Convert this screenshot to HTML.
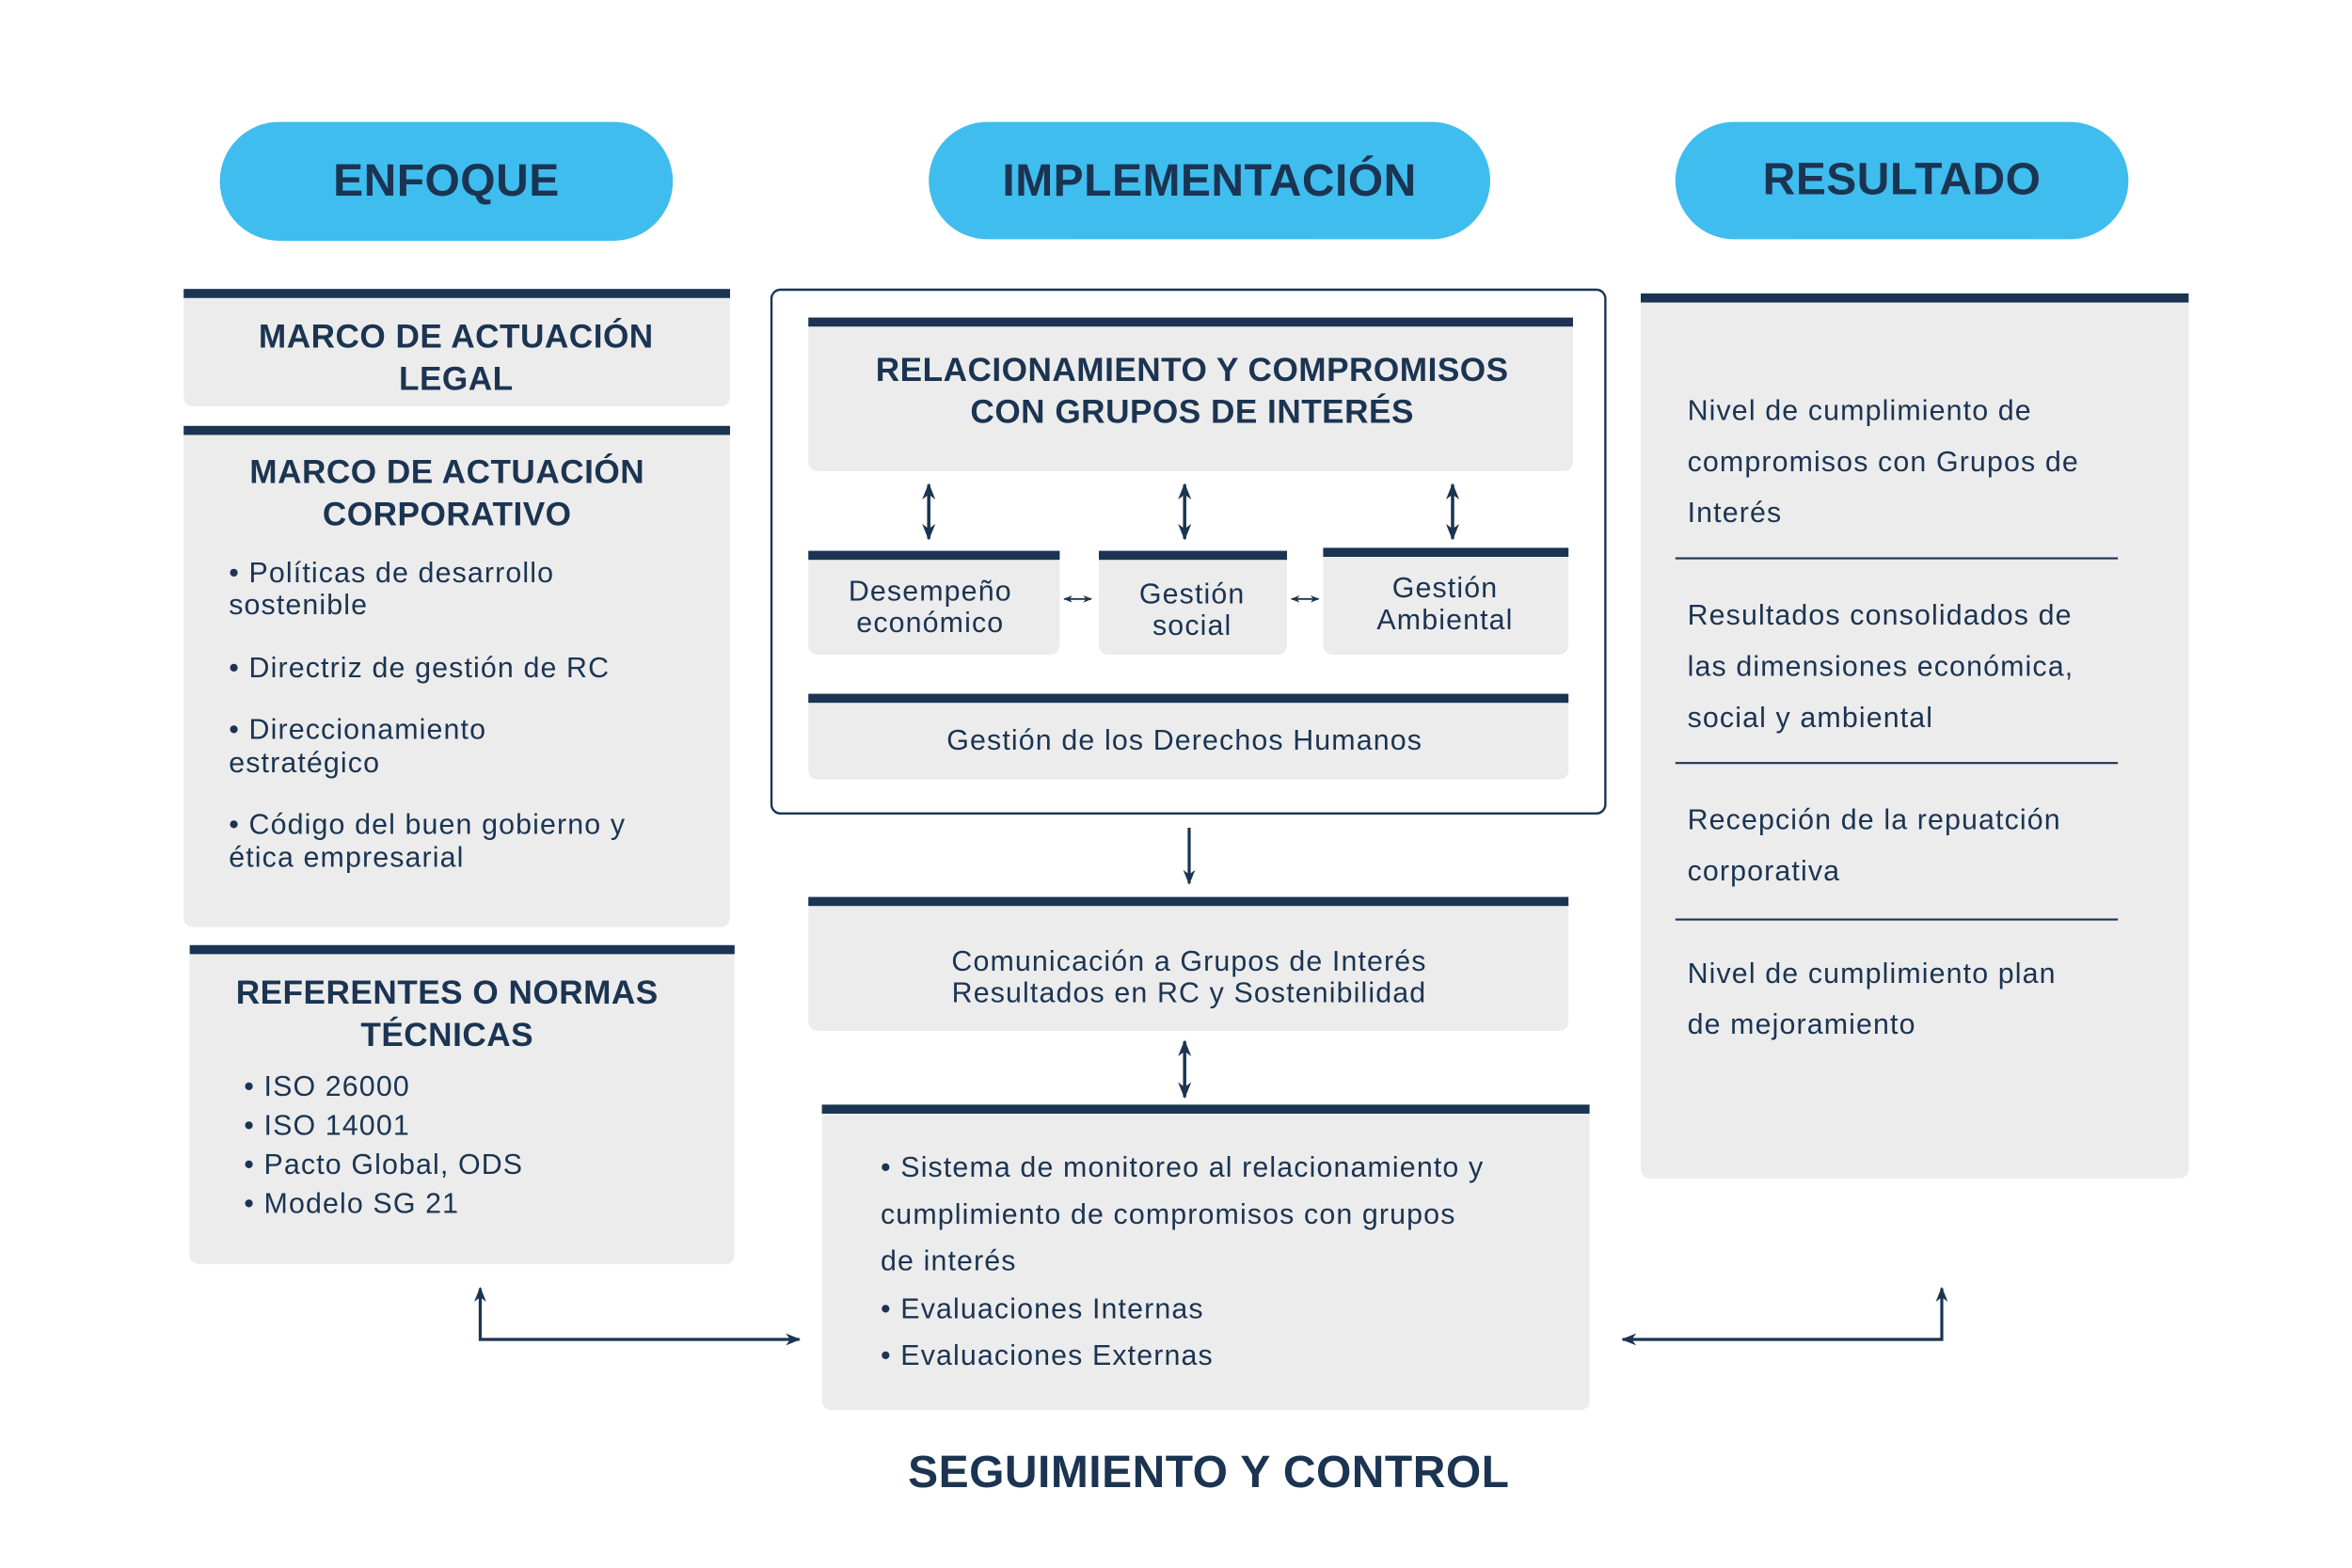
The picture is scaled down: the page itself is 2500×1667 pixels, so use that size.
<!DOCTYPE html>
<html><head><meta charset="utf-8"><style>
html,body{margin:0;padding:0;background:#fff;}
svg{display:block;}
text{font-family:"Liberation Sans","DejaVu Sans",sans-serif;fill:#1b3452;}
.b{font-weight:bold;letter-spacing:0.3px;}
.t{letter-spacing:0.7px;}
</style></head><body>
<svg width="2500" height="1667" viewBox="0 0 1562.5 1041.9" xmlns="http://www.w3.org/2000/svg">
<defs>
<marker id="ah" viewBox="0 0 10 10" refX="9" refY="5" markerWidth="5" markerHeight="5" orient="auto-start-reverse"><path d="M0,1 L10,5 L0,9 L3,5 Z" fill="#1b3452"/></marker>
</defs>
<rect width="1563" height="1042" fill="#fff"/>
<rect x="146" y="81" width="301" height="79" rx="39.5" fill="#3fbdee"/>
<text x="296.5" y="130" font-size="30" class="b" text-anchor="middle">ENFOQUE</text>
<rect x="617" y="81" width="373" height="78" rx="39" fill="#3fbdee"/>
<text x="803.5" y="130" font-size="30" class="b" text-anchor="middle">IMPLEMENTACIÓN</text>
<rect x="1113" y="81" width="301" height="78" rx="39" fill="#3fbdee"/>
<text x="1263.5" y="129" font-size="30" class="b" text-anchor="middle">RESULTADO</text>

<g fill="#ececec">
<rect x="122" y="192" width="363" height="78" rx="6"/>
<rect x="122" y="283" width="363" height="333" rx="6"/>
<rect x="126" y="628" width="362" height="212" rx="6"/>
<rect x="537" y="211" width="508" height="102" rx="6"/>
<rect x="537" y="366" width="167" height="69" rx="6"/>
<rect x="730" y="366" width="125" height="69" rx="6"/>
<rect x="879" y="364" width="163" height="71" rx="6"/>
<rect x="537" y="461" width="505" height="57" rx="6"/>
<rect x="537" y="596" width="505" height="89" rx="6"/>
<rect x="546" y="734" width="510" height="203" rx="6"/>
<rect x="1090" y="195" width="364" height="588" rx="6"/>
</g>
<g fill="#1b3452">
<rect x="122" y="192" width="363" height="6"/>
<rect x="122" y="283" width="363" height="6"/>
<rect x="126" y="628" width="362" height="6"/>
<rect x="537" y="211" width="508" height="6"/>
<rect x="537" y="366" width="167" height="6"/>
<rect x="730" y="366" width="125" height="6"/>
<rect x="879" y="364" width="163" height="6"/>
<rect x="537" y="461" width="505" height="6"/>
<rect x="537" y="596" width="505" height="6"/>
<rect x="546" y="734" width="510" height="6"/>
<rect x="1090" y="195" width="364" height="6"/>
</g>
<rect x="512.5" y="192.5" width="554" height="348" rx="6" fill="none" stroke="#1b3452" stroke-width="1.5"/>

<text x="303" y="231" font-size="22" class="b" text-anchor="middle">MARCO DE ACTUACIÓN</text>
<text x="303" y="259" font-size="22" class="b" text-anchor="middle">LEGAL</text>
<text x="297" y="321" font-size="22" class="b" text-anchor="middle">MARCO DE ACTUACIÓN</text>
<text x="297" y="349" font-size="22" class="b" text-anchor="middle">CORPORATIVO</text>
<g font-size="19" class="t">
<text x="152" y="387">• Políticas de desarrollo</text>
<text x="152" y="408">sostenible</text>
<text x="152" y="450">• Directriz de gestión de RC</text>
<text x="152" y="491">• Direccionamiento</text>
<text x="152" y="513">estratégico</text>
<text x="152" y="554">• Código del buen gobierno y</text>
<text x="152" y="576">ética empresarial</text>
</g>
<text x="297" y="667" font-size="22" class="b" text-anchor="middle">REFERENTES O NORMAS</text>
<text x="297" y="695" font-size="22" class="b" text-anchor="middle">TÉCNICAS</text>
<g font-size="19" class="t">
<text x="162" y="728">• ISO 26000</text>
<text x="162" y="754">• ISO 14001</text>
<text x="162" y="780">• Pacto Global, ODS</text>
<text x="162" y="806">• Modelo SG 21</text>
</g>

<text x="792" y="253" font-size="22" class="b" text-anchor="middle">RELACIONAMIENTO Y COMPROMISOS</text>
<text x="792" y="281" font-size="22" class="b" text-anchor="middle">CON GRUPOS DE INTERÉS</text>
<g font-size="19" text-anchor="middle" class="t">
<text x="618" y="399">Desempeño</text>
<text x="618" y="420">económico</text>
<text x="792" y="401">Gestión</text>
<text x="792" y="422">social</text>
<text x="960" y="397">Gestión</text>
<text x="960" y="418">Ambiental</text>
<text x="787" y="498">Gestión de los Derechos Humanos</text>
<text x="790" y="645">Comunicación a Grupos de Interés</text>
<text x="790" y="666">Resultados en RC y Sostenibilidad</text>
</g>
<g font-size="19" class="t">
<text x="585" y="782">• Sistema de monitoreo al relacionamiento y</text>
<text x="585" y="813">cumplimiento de compromisos con grupos</text>
<text x="585" y="844">de interés</text>
<text x="585" y="876">• Evaluaciones Internas</text>
<text x="585" y="907">• Evaluaciones Externas</text>
</g>
<text x="803" y="988" font-size="30" class="b" text-anchor="middle">SEGUIMIENTO Y CONTROL</text>

<g font-size="19" class="t">
<text x="1121" y="279">Nivel de cumplimiento de</text>
<text x="1121" y="313">compromisos con Grupos de</text>
<text x="1121" y="347">Interés</text>
<text x="1121" y="415">Resultados consolidados de</text>
<text x="1121" y="449">las dimensiones económica,</text>
<text x="1121" y="483">social y ambiental</text>
<text x="1121" y="551">Recepción de la repuatción</text>
<text x="1121" y="585">corporativa</text>
<text x="1121" y="653">Nivel de cumplimiento plan</text>
<text x="1121" y="687">de mejoramiento</text>
</g>
<g stroke="#1b3452" stroke-width="1.3">
<line x1="1113" y1="371" x2="1407" y2="371"/>
<line x1="1113" y1="507" x2="1407" y2="507"/>
<line x1="1113" y1="611" x2="1407" y2="611"/>
</g>

<g stroke="#1b3452" stroke-width="2.2" fill="none" marker-start="url(#ah)" marker-end="url(#ah)">
<line x1="617" y1="322" x2="617" y2="358"/>
<line x1="787" y1="322" x2="787" y2="358"/>
<line x1="965" y1="322" x2="965" y2="358"/>
<line x1="787" y1="692" x2="787" y2="729"/>
</g>
<g stroke="#1b3452" stroke-width="1.2" fill="none" marker-start="url(#ah)" marker-end="url(#ah)">
<line x1="707" y1="398" x2="725" y2="398"/>
<line x1="858" y1="398" x2="876" y2="398"/>
</g>
<g stroke="#1b3452" stroke-width="2" fill="none">
<line x1="790" y1="550" x2="790" y2="587" marker-end="url(#ah)"/>
<polyline points="319,856 319,890 531,890" marker-start="url(#ah)" marker-end="url(#ah)"/>
<polyline points="1078,890 1290,890 1290,856" marker-start="url(#ah)" marker-end="url(#ah)"/>
</g>
</svg>
</body></html>
